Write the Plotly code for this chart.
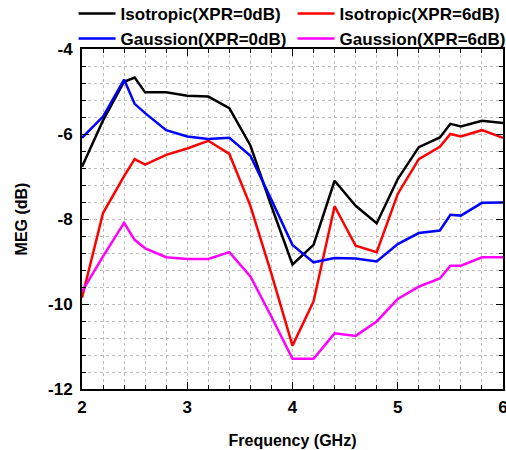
import plotly.graph_objects as go

freq = [2.0, 2.2, 2.4, 2.5, 2.6, 2.8, 3.0, 3.2, 3.4, 3.6, 3.8, 4.0, 4.2, 4.4, 4.6, 4.8, 5.0, 5.2, 5.4, 5.5, 5.6, 5.8, 6.0]

iso_0db = [-6.77, -5.68, -4.77, -4.67, -5.02, -5.02, -5.10, -5.12, -5.39, -6.27, -7.70, -9.07, -8.61, -7.10, -7.69, -8.10, -7.06, -6.31, -6.08, -5.76, -5.82, -5.69, -5.74]
iso_6db = [-9.85, -7.86, -6.99, -6.59, -6.72, -6.49, -6.34, -6.16, -6.47, -7.69, -9.29, -10.98, -9.94, -7.70, -8.63, -8.78, -7.41, -6.59, -6.30, -6.00, -6.06, -5.91, -6.09]
gau_0db = [-6.09, -5.59, -4.72, -5.29, -5.51, -5.91, -6.06, -6.12, -6.09, -6.51, -7.55, -8.61, -9.02, -8.92, -8.93, -9.00, -8.59, -8.33, -8.27, -7.90, -7.92, -7.62, -7.61]
gau_6db = [-9.71, -8.88, -8.09, -8.49, -8.69, -8.90, -8.94, -8.94, -8.78, -9.35, -10.30, -11.29, -11.29, -10.69, -10.75, -10.41, -9.88, -9.59, -9.40, -9.10, -9.10, -8.90, -8.90]

series = [
    ("Isotropic(XPR=0dB)", iso_0db, "#000000"),
    ("Isotropic(XPR=6dB)", iso_6db, "#FF0000"),
    ("Gaussion(XPR=0dB)", gau_0db, "#0000FF"),
    ("Gaussion(XPR=6dB)", gau_6db, "#FF00FF"),
]

x_ticks = [2, 3, 4, 5, 6]
y_ticks = [-12, -10, -8, -6, -4]

fig = go.Figure()
for name, vals, color in series:
    fig.add_trace(go.Scatter(x=freq, y=vals, mode="lines", name=name,
                             line=dict(color=color, width=2.5)))

font_family = "Liberation Sans, Arial, sans-serif"
axis_common = dict(
    showline=True, linecolor="#000000", linewidth=2, mirror="allticks",
    ticks="inside", ticklen=7, tickwidth=1.2, tickcolor="#000000",
    showgrid=True, gridcolor="#bdbdbd", griddash="dot", gridwidth=1,
    zeroline=False, ticklabeloverflow="allow",
    tickfont=dict(family=font_family, size=17, color="#000000", weight="bold"),
)

fig.update_layout(
    width=506, height=450,
    margin=dict(l=82, r=3, t=49, b=61, autoexpand=False),
    paper_bgcolor="white", plot_bgcolor="white",
    font=dict(family=font_family, color="#000000"),
    showlegend=True,
    legend=dict(
        orientation="h", x=-0.02, y=1.156, xref="paper", yref="paper",
        xanchor="left", yanchor="top",
        entrywidth=167, entrywidthmode="pixels",
        font=dict(family=font_family, size=17, color="#000000", weight="bold"),
        bgcolor="rgba(0,0,0,0)", tracegroupgap=0, itemwidth=37,
    ),
    xaxis=dict(
        range=[2, 6], tickvals=x_ticks, ticktext=[str(v) for v in x_ticks],
        ticklabelstandoff=2,
        minor=dict(dtick=0.2, ticks="inside", ticklen=4, tickcolor="#000000",
                   showgrid=True, gridcolor="#bdbdbd", griddash="dot", gridwidth=1),
        title=dict(text="Frequency (GHz)", standoff=18,
                   font=dict(family=font_family, size=16, color="#000000", weight="bold")),
        **axis_common,
    ),
    yaxis=dict(
        range=[-12, -4], tickvals=y_ticks, ticktext=[str(v) for v in y_ticks],
        ticklabelstandoff=4,
        minor=dict(dtick=0.4, tick0=-12, ticks="inside", ticklen=4, tickcolor="#000000",
                   showgrid=True, gridcolor="#bdbdbd", griddash="dot", gridwidth=1),
        title=dict(text="MEG (dB)", standoff=16,
                   font=dict(family=font_family, size=16, color="#000000", weight="bold")),
        **axis_common,
    ),
)

fig.write_html("out.html")
